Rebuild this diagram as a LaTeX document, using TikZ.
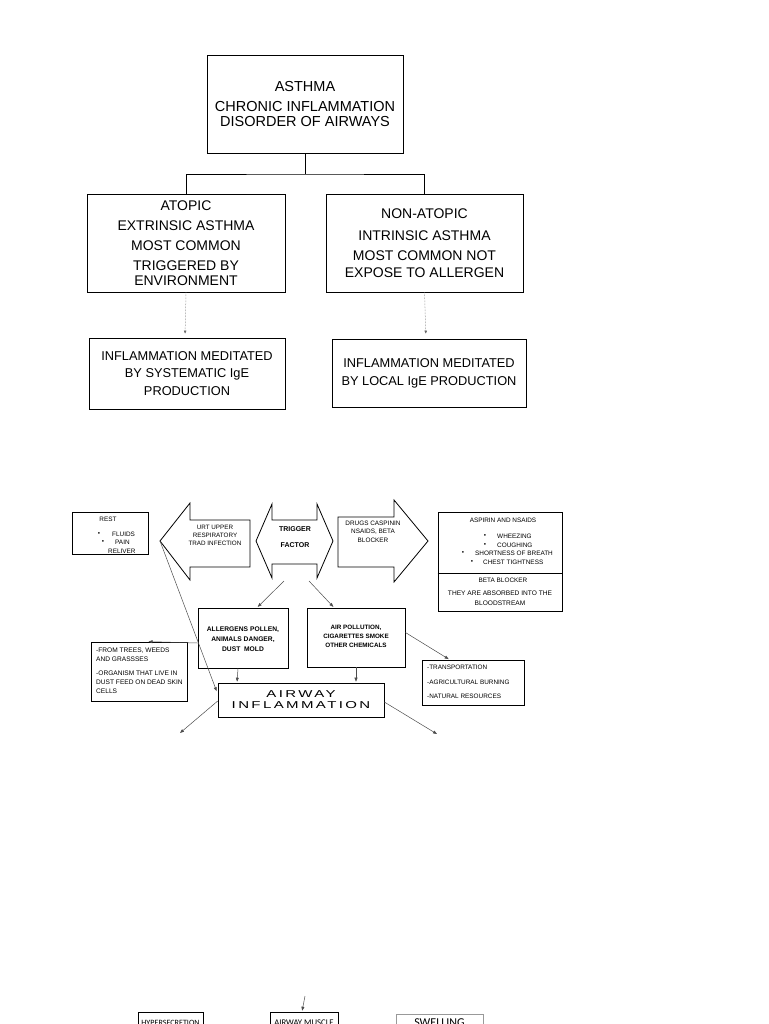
\documentclass[tikz,border=0pt]{standalone}
\usepackage{fontspec}
\setmainfont{Liberation Sans}
\newfontfamily\carl{Carlito}
\newfontfamily\wide[FakeStretch=1.5,LetterSpace=24]{Liberation Sans}
\usetikzlibrary{arrows.meta}
\begin{document}
\begin{tikzpicture}[x=1pt,y=-1pt,
  box/.style={draw, line width=0.8pt, inner sep=0pt, align=center},
  blk/.style={draw, line width=0.8pt, line join=miter},
  con/.style={draw=black!70, line width=0.5pt, -{Triangle[length=4pt,width=3pt]}},
  dcon/.style={draw=black!60, densely dotted, line width=0.5pt, -{Triangle[length=3pt,width=2.5pt]}},
  sm/.style={font=\fontsize{6.4}{8}\selectfont, inner sep=0pt, align=center},
  smb/.style={font=\bfseries\fontsize{6.7}{10}\selectfont, inner sep=0pt, align=center},
  big/.style={font=\fontsize{14}{15}\selectfont}]
\useasboundingbox (0,0) rectangle (768,1024);
\clip (0,0) rectangle (768,1024);

% ---------- top section ----------
\node[box, minimum width=196pt, minimum height=98pt, font=\fontsize{14.5}{16.5}\selectfont] (top) at (305,104)
  {ASTHMA\\[3.5pt]CHRONIC INFLAMMATION\\[-1pt]DISORDER OF AIRWAYS};
\node[box, big, minimum width=198pt, minimum height=98pt] (atopic) at (186,243)
  {ATOPIC\\[5pt]EXTRINSIC ASTHMA\\[5pt]MOST COMMON\\[5pt]TRIGGERED BY\\ENVIRONMENT};
\node[box, font=\fontsize{14}{17}\selectfont, minimum width=197pt, minimum height=98pt] (nonatopic) at (424.5,243)
  {NON-ATOPIC\\[5pt]INTRINSIC ASTHMA\\[3pt]MOST COMMON NOT\\EXPOSE TO ALLERGEN};
\coordinate (j) at (305,174);
\draw[line width=0.8pt] (top.south) -- (j);
\draw[line width=0.8pt] (atopic.north) |- (j) -| (nonatopic.north);

\node[box, font=\fontsize{12.8}{17.5}\selectfont, minimum width=196pt, minimum height=71pt] (inf1) at (187,373.5)
  {INFLAMMATION MEDITATED\\BY SYSTEMATIC IgE\\PRODUCTION};
\node[box, font=\fontsize{12.8}{18}\selectfont, minimum width=194pt, minimum height=68pt] (inf2) at (429,373)
  {INFLAMMATION MEDITATED\\BY LOCAL IgE PRODUCTION};
\draw[dcon, shorten >=4pt] (atopic.south) -- ([xshift=-2pt]inf1.north);
\draw[dcon, shorten >=5pt] (nonatopic.south) -- ([xshift=-3pt]inf2.north);

% ---------- middle section ----------
\node[box, minimum width=76pt, minimum height=42pt] (rest) at (110,533.5) {};
\node[sm] at (108,519) {REST};
\node[sm] at (99,534) {\textbullet};
\node[sm, anchor=west] at (112,534) {FLUIDS};
\node[sm] at (103,542) {\textbullet};
\node[sm, anchor=west] at (115,542) {PAIN};
\begin{scope}
  \clip (rest.north west) rectangle (rest.south east);
  \node[sm, anchor=west] at (108,551.5) {RELIVER};
\end{scope}

\draw[blk] (250,520) -- (190,520) -- (190,503) -- (160,541) coordinate (urttip)
  -- (190,580) -- (190,567) -- (250,567) -- cycle;
\node[sm, font=\fontsize{6.3}{8}\selectfont] (urt) at (215,535.5) {URT UPPER\\RESPIRATORY\\TRAD INFECTION};

\draw[blk] (256,541) -- (272,504) -- (272,520) -- (317,520) -- (317,504) -- (333,541)
  -- (317,578) -- (317,564) -- (272,564) -- (272,578) -- cycle;
\coordinate (trgB1) at (284,581);
\coordinate (trgB2) at (309,581);
\node[smb, font=\bfseries\fontsize{7}{10}\selectfont] (trg1) at (295,529) {TRIGGER};
\node[smb, font=\bfseries\fontsize{7}{10}\selectfont] (trg2) at (295,545) {FACTOR};

\draw[blk] (338,517) -- (394,517) -- (394,500) -- (428,541) -- (394,582) -- (394,567) -- (338,567) -- cycle;
\node[sm, font=\fontsize{6.4}{8.5}\selectfont] (drugs) at (373,531.5) {DRUGS CASPININ\\NSAIDS, BETA\\BLOCKER};

\node[box, minimum width=124pt, minimum height=99pt] (asp) at (500,562) {};
\draw[line width=0.8pt] (asp.west |- 0,573) -- (asp.east |- 0,573);
\node[sm] at (503,520.5) {ASPIRIN AND NSAIDS};
\node[sm] at (485,536.5) {\textbullet};
\node[sm, anchor=west] at (497,536.5) {WHEEZING};
\node[sm] at (485,545) {\textbullet};
\node[sm, anchor=west] at (497,545) {COUGHING};
\node[sm] at (463,553) {\textbullet};
\node[sm, anchor=west] at (475,553) {SHORTNESS OF BREATH};
\node[sm] at (472,562.5) {\textbullet};
\node[sm, anchor=west] at (483,562.5) {CHEST TIGHTNESS};
\node[sm] at (503,580) {BETA BLOCKER};
\node[sm, font=\fontsize{6.6}{9.5}\selectfont] at (500,598) {THEY ARE ABSORBED INTO THE\\BLOODSTREAM};

\node[box, minimum width=90pt, minimum height=60pt] (alg) at (243,638) {};
\node[smb] at (243,639) {ALLERGENS POLLEN,\\ANIMALS DANGER,\\DUST\ \ MOLD};
\node[box, minimum width=98pt, minimum height=59pt] (apol) at (356,637.5) {};
\node[smb, font=\bfseries\fontsize{6.3}{9}\selectfont] at (356,636) {AIR POLLUTION,\\CIGARETTES SMOKE\\OTHER CHEMICALS};

\node[box, minimum width=96pt, minimum height=59pt] (trees) at (139.5,671.5) {};
\node[sm, anchor=north west, align=left, font=\fontsize{6.6}{9}\selectfont] at (96,647.5)
  {-FROM TREES, WEEDS\\AND GRASSSES\\[5pt]-ORGANISM THAT LIVE IN\\DUST FEED ON DEAD SKIN\\CELLS};

\node[box, minimum width=102pt, minimum height=45pt] (trans) at (473.5,682.5) {};
\node[sm, anchor=west] at (427,667) {-TRANSPORTATION};
\node[sm, anchor=west] at (427,682) {-AGRICULTURAL BURNING};
\node[sm, anchor=west] at (427,696) {-NATURAL RESOURCES};

\node[box, line width=0.6pt, minimum width=166pt, minimum height=34pt, font=\wide\fontsize{10}{11}\selectfont] (air) at (301,700)
  {AIRWAY\\INFLAMMATION};

\draw[con, shorten >=1pt] (trgB1) -- ([xshift=14pt]alg.north);
\draw[con, shorten >=1pt] (trgB2) -- ([xshift=-22pt]apol.north);
\draw[con, shorten >=1pt] ([yshift=-5pt]alg.west) -- ([xshift=8pt]trees.north);
\draw[con, shorten >=1pt] ([yshift=5pt]apol.east) -- ([xshift=-24pt]trans.north);
\draw[con, shorten >=1pt] ([xshift=-5pt]alg.south) -- ([xshift=-64pt]air.north);
\draw[con, shorten >=1pt] (apol.south) -- (apol.south |- air.north);
\draw[con, shorten >=3pt] (urttip) -- ([yshift=6pt]air.west);
\coordinate (o1) at (180,733);
\coordinate (o2) at (437,734);
\draw[con] ([yshift=-1pt]air.west) -- (o1);
\draw[con] ([yshift=-2pt]air.east) -- (o2);

% ---------- bottom (cut off by the page edge, as in the reference) ----------
\node[box, line width=0.6pt, minimum width=65pt, minimum height=22pt, font=\carl\fontsize{8.1}{9}\selectfont] (hyp) at (170.5,1023) {HYPERSECRETION};
\node[box, line width=0.6pt, minimum width=68pt, minimum height=22pt, font=\carl\fontsize{8.7}{10}\selectfont] (mus) at (304,1023) {AIRWAY MUSCLE};
\node[box, draw=black!40, line width=0.6pt, minimum width=87pt, minimum height=16pt, font=\carl\fontsize{12}{13}\selectfont] (swe) at (439.5,1022.5) {SWELLING};
\coordinate (b0) at (305,996);
\draw[con, shorten >=1pt] (b0) -- ([xshift=-2pt]mus.north);
\end{tikzpicture}
\end{document}
